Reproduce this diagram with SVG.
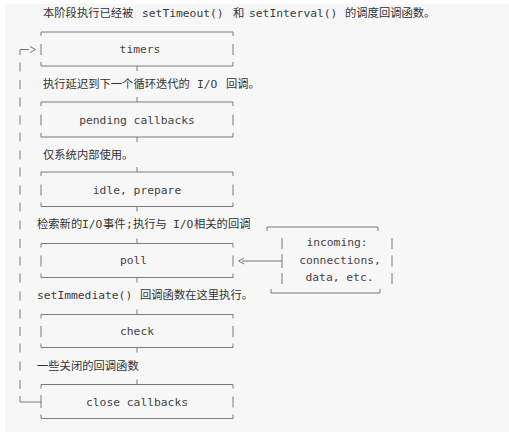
<svg xmlns="http://www.w3.org/2000/svg" width="509" height="434" viewBox="0 0 509 434">
<style>
.ln{fill:none;stroke:#7a7a7a;stroke-width:1}
.cj{font-family:"Noto Sans CJK SC","Noto Sans",sans-serif;font-size:11.3px;fill:#333}
.mo{font-family:"DejaVu Sans Mono","Liberation Mono",monospace;font-size:11.3px;fill:#3a3a3a}
.lb{font-family:"DejaVu Sans Mono","Liberation Mono",monospace;font-size:11.3px;fill:#444;text-anchor:middle}
</style>
<rect x="0" y="0" width="509" height="434" fill="#ffffff"/>
<rect x="5" y="4" width="504" height="428" fill="#f7f7f7"/>

<g id="descriptions">
<text class="cj" y="17"><tspan x="43">本阶段执行已经被</tspan><tspan class="mo" x="142">setTimeout()</tspan><tspan x="233">和</tspan><tspan class="mo" x="249">setInterval()</tspan><tspan x="345">的调度回调函数。</tspan></text>
<text class="cj" y="88"><tspan x="43">执行延迟到下一个循环迭代的</tspan><tspan class="mo" x="197">I/O</tspan><tspan x="226">回调。</tspan></text>
<text class="cj" x="43" y="158.5">仅系统内部使用。</text>
<text class="cj" y="228"><tspan x="37">检索新的</tspan><tspan class="mo" x="82">I/O</tspan><tspan x="103">事件</tspan><tspan class="mo" x="126">;</tspan><tspan x="133">执行与</tspan><tspan class="mo" x="173">I/O</tspan><tspan x="194">相关的回调</tspan></text>
<text class="cj" y="299"><tspan class="mo" x="37">setImmediate()</tspan><tspan x="140">回调函数在这里执行。</tspan></text>
<text class="cj" x="37" y="369.5">一些关闭的回调函数</text>
</g>

<g id="timers">
<path class="ln" d="M41,36V32H233V36M41,44V55M233,44V55M41,62V66H233V62"/>
<text class="lb" x="140" y="52.5">timers</text>
</g>
<g id="pending">
<path class="ln" d="M41,106V102H233V106M41,114.5V125.5M233,114.5V125.5M41,133V137H233V133"/>
<text class="lb" x="137" y="123.5">pending callbacks</text>
</g>
<g id="idle">
<path class="ln" d="M41,176V172H233V176M41,184.5V195.5M233,184.5V195.5M41,202.5V206.5H233V202.5"/>
<text class="lb" x="137" y="193.5">idle, prepare</text>
</g>
<g id="poll">
<path class="ln" d="M41,247.5V243.5H233V247.5M41,255.5V266.5M233,255.5V266.5M41,273.5V277.5H233V273.5"/>
<text class="lb" x="133.5" y="264">poll</text>
</g>
<g id="check">
<path class="ln" d="M41,318.5V314.5H233V318.5M41,326V337M233,326V337M41,343.5V347.5H233V343.5"/>
<text class="lb" x="137" y="334.5">check</text>
</g>
<g id="close">
<path class="ln" d="M41,388.5V384.5H233V388.5M41,395V408M233,396.5V407.5M41,414.5V418.5H233V414.5"/>
<text class="lb" x="137" y="405.5">close callbacks</text>
</g>
<g id="incoming">
<path class="ln" d="M267,231V227H378V231M282,238V249M392,238V249M282,254V268M392,255.5V266.5M282,273V284M392,273V284M271,289V293H380V289"/>
<text class="lb" x="337" y="246">incoming:</text>
<text class="lb" x="340" y="264">connections,</text>
<text class="lb" x="339.5" y="281">data, etc.</text>
</g>

<g id="connectors">
<path class="ln" d="M137,66V71M137,97V102M137,137V142M137,167V172M137,206.5V211.5M137,238.5V243.5M137,277.5V282.5M137,309.5V314.5M137,347.5V352.5M137,379.5V384.5"/>
<path class="ln" d="M20,55V49.5H29M30,46.5L35.5,49.5L30,52.5"/>
<path class="ln" d="M20,62.5V71.5M20,80V89M20,97.5V106.5M20,115.5V124.5M20,132.5V141.5M20,150.5V159.5M20,167.5V176.5M20,185.5V194.5M20,202.5V211.5M20,220.5V229.5M20,239V248M20,256.5V265.5M20,273.5V282.5M20,291.5V300.5M20,309.5V318.5M20,327V336M20,343.5V352.5M20,361.5V370.5M20,380V389"/>
<path class="ln" d="M20,396V402H41"/>
<path class="ln" d="M242,261H282M244,258L238.5,261L244,264"/>
</g>
</svg>
